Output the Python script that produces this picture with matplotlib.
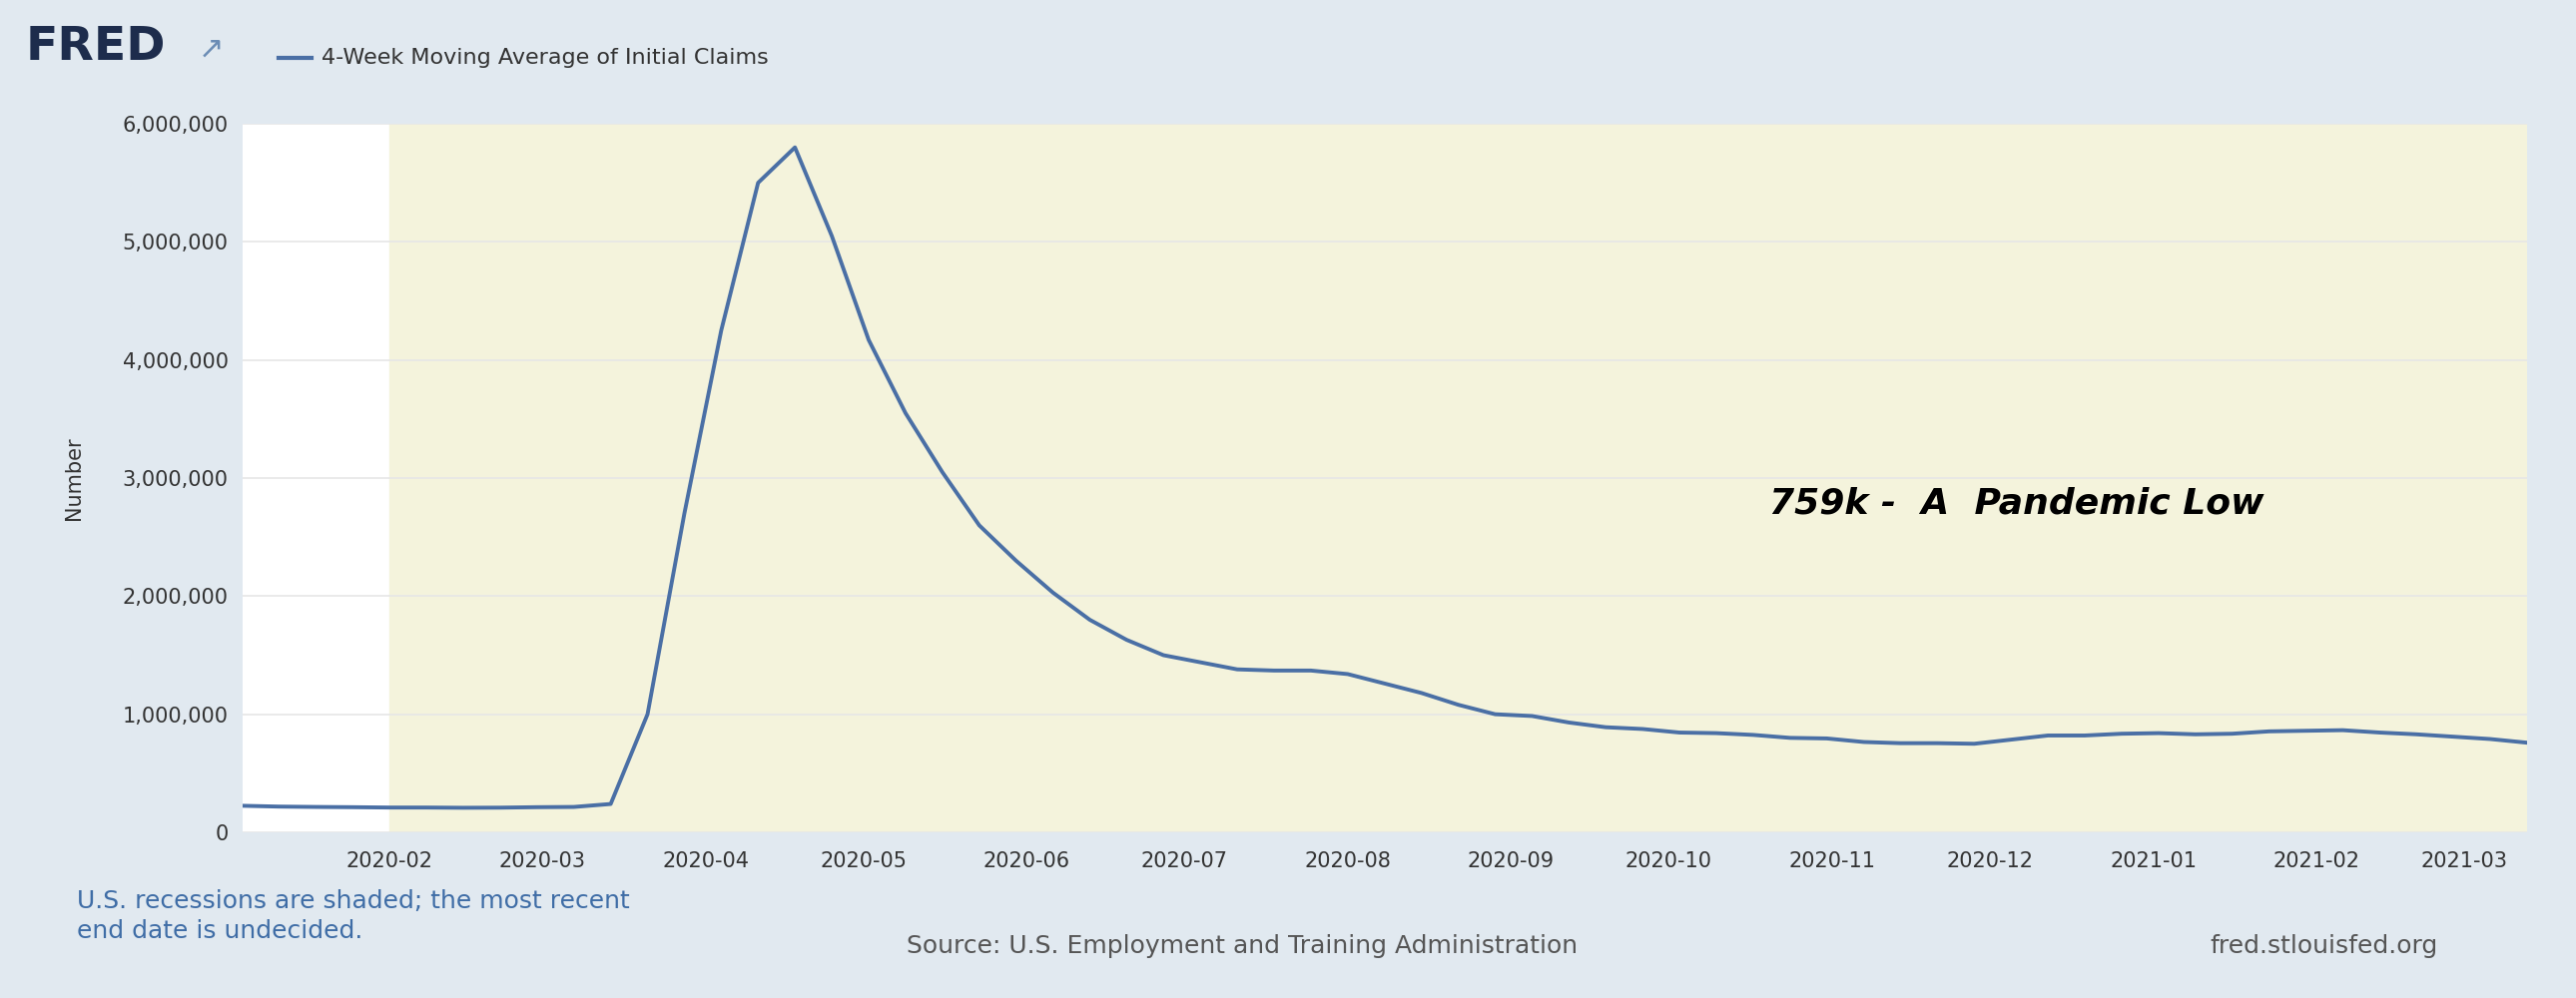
import matplotlib.pyplot as plt
import matplotlib.dates as mdates
import numpy as np
import pandas as pd

dates = pd.date_range("2020-01-04", "2021-03-13", freq="7D")
claims = [225000, 218000, 215000, 213000, 210000, 210000, 208000, 209000, 213000, 215000,
          240000, 1000000, 2700000, 4250000, 5500000, 5800000, 5050000, 4170000, 3550000,
          3050000, 2600000, 2300000, 2030000, 1800000, 1630000, 1500000, 1440000, 1380000,
          1370000, 1370000, 1340000, 1260000, 1180000, 1080000, 1000000, 985000, 930000,
          890000, 875000, 845000, 840000, 825000, 800000, 795000, 765000, 755000, 755000,
          750000, 785000, 820000, 820000, 835000, 840000, 830000, 835000, 855000, 860000,
          865000, 845000, 830000, 810000, 790000, 759000]
recession_start = pd.Timestamp("2020-02-01")

bg = "#e1e9f0"
fig = plt.figure(figsize=(25.8, 10), dpi=100, facecolor=bg)
ax = fig.add_axes([0.094, 0.166, 0.887, 0.71])
ax.set_facecolor("white")

ax.axvspan(recession_start, dates[-1], color="#f4f3dc", zorder=0)
ax.plot(dates, claims, color="#4a6fa5", lw=2.8, zorder=3)

ax.set_xlim(dates[0], dates[-1])
ax.set_ylim(0, 6000000)
ax.set_yticks(np.arange(0, 6000001, 1000000))
ax.yaxis.set_major_formatter(plt.FuncFormatter(lambda v, p: f"{int(v):,}"))
ax.xaxis.set_major_formatter(mdates.DateFormatter("%Y-%m"))
ax.set_xticks(list(pd.date_range("2020-02-01", "2021-03-01", freq="MS")))
ax.grid(axis="y", color="#e6e6e6", lw=1.2, zorder=1)
for s in ax.spines.values():
    s.set_visible(False)
ax.tick_params(axis="both", length=0, labelsize=15, colors="#333333", pad=10)
ax.tick_params(axis="x", pad=14)
ax.set_ylabel("Number", fontsize=15, color="#333333", labelpad=28)

ax.text(pd.Timestamp("2020-10-20"), 2700000, "759k -  A  Pandemic Low",
        fontsize=26, fontweight="bold", fontstyle="italic", color="black")

fig.text(0.01, 0.94, "FRED", fontsize=34, fontweight="bold", color="#1d2c4c")
fig.text(0.077, 0.942, "\u2197", fontsize=22, color="#6b8cb5")
fig.add_artist(plt.Line2D([0.108, 0.121], [0.942, 0.942], color="#4a6fa5", lw=3))
fig.text(0.125, 0.942, "4-Week Moving Average of Initial Claims", fontsize=16,
         color="#333333", va="center")

fig.text(0.03, 0.06, "U.S. recessions are shaded; the most recent\nend date is undecided.",
         fontsize=18, color="#3f6da6", linespacing=1.3)
fig.text(0.352, 0.045, "Source: U.S. Employment and Training Administration",
         fontsize=18, color="#555555")
fig.text(0.858, 0.045, "fred.stlouisfed.org", fontsize=18, color="#555555")

fig.savefig("out.png", dpi=100, facecolor=bg)
